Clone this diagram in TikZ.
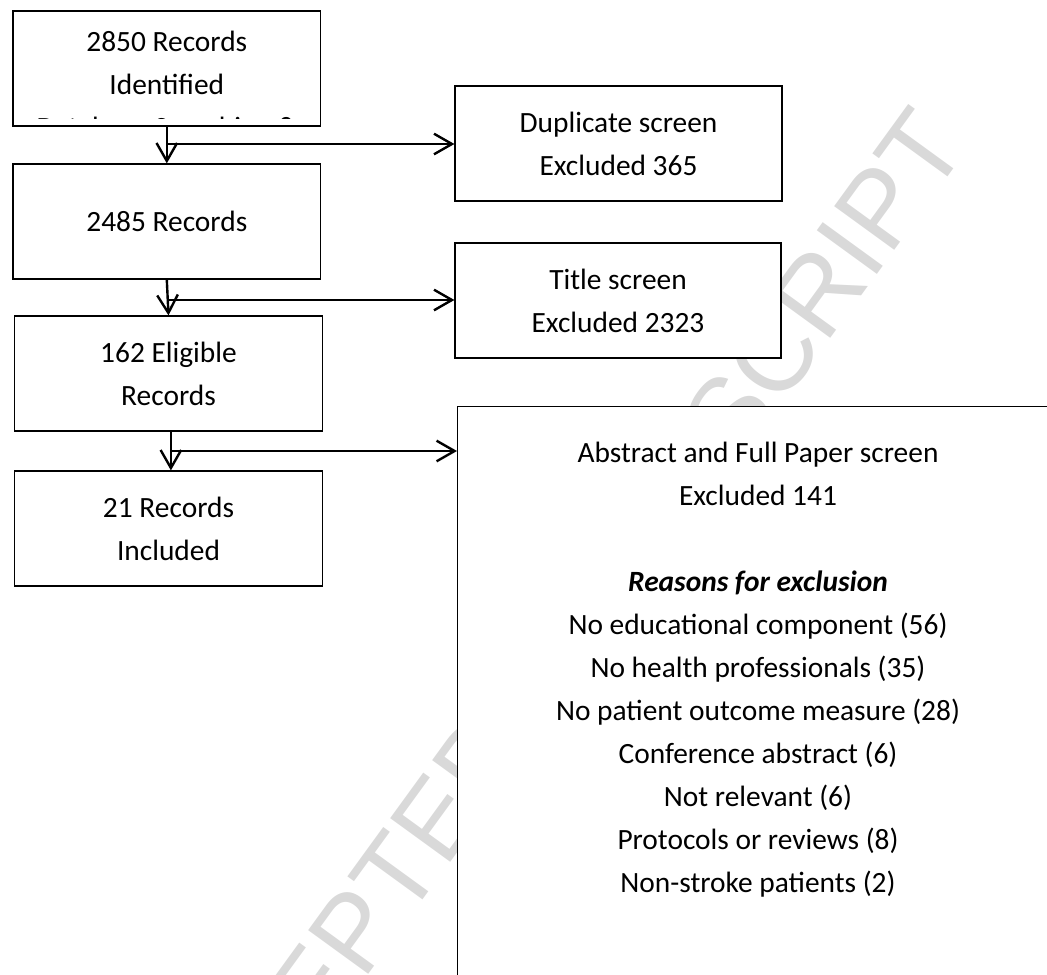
\documentclass[tikz,border=0pt]{standalone}
\usepackage{fontspec}
\setmainfont{Carlito}
\newfontfamily\stampfont{Liberation Sans}
\usetikzlibrary{positioning}
\usetikzlibrary{arrows.meta}
\definecolor{stampgrey}{rgb}{0.85,0.85,0.85}

\begin{document}
\begin{tikzpicture}[%
  x=0.5pt, y=-0.5pt,
  box/.style={draw, line width=0.6pt, fill=white, align=center, inner sep=0pt,
    minimum width=153.8pt, minimum height=57.5pt,
    font=\fontsize{14.7}{21.5}\selectfont},
  flow/.style={line width=1.2pt, -{Straight Barb[length=9pt,width=10.3pt]}},
]

  \useasboundingbox (0,0) rectangle (1047,974);
  \clip (0,0) rectangle (1047,974);

  % watermark
  \node[stampgrey, rotate=54, inner sep=0pt, font=\fontsize{54}{54}\selectfont\stampfont]
    (stamp) at (549,663) {ACCEPTED MANUSCRIPT};

  \node[box] (ident) at (166.8,68.5) {};
  \node[box] (dedup) at (166.8,221.5) {2485 Records};
  \node[box] (elig) at (168.5,373.5) {162 Eligible\\Records};
  \node[box] (incl) at (168.5,528.5) {21 Records\\Included};

  \node[box, minimum width=163.5pt] (dupscr) at (618.5,143.5) {Duplicate screen\\Excluded 365};
  \node[box, minimum width=163pt] (titlescr) at (618,300.5) {Title screen\\Excluded 2323};
  \node[box, anchor=north west, minimum width=320pt, minimum height=300pt] (absscr) at (457,406) {};

  % text of the first box runs past its frame
  \begin{scope}
    \clip (ident.north west) rectangle ([yshift=4pt]ident.south east);
    \node[align=center, font=\fontsize{14.7}{21.5}\selectfont] (identtxt) at (166.8,86.5)
      {2850 Records\\Identified\\Database Searching \&};
  \end{scope}

  \node[align=center, font=\fontsize{14.7}{21.5}\selectfont] (reasons) at (758,669.5)
    {Abstract and Full Paper screen\\Excluded 141\\[21.5pt]
     \textbf{\textit{Reasons for exclusion}}\\
     No educational component (56)\\
     No health professionals (35)\\
     No patient outcome measure (28)\\
     Conference abstract (6)\\
     Not relevant (6)\\
     Protocols or reviews (8)\\
     Non-stroke patients (2)};

  % Flow
  \draw[flow] (ident.south) -- (dedup.north);
  \draw[flow] (dedup.south) -- (elig.north);
  \draw[flow] ([xshift=1.2pt]elig.south) -- ([xshift=1.2pt]incl.north);

  \coordinate (fork1) at (ident.south |- 0,144);
  \coordinate (fork2) at (dedup.south |- 0,300);
  \coordinate (fork3) at ([xshift=1.2pt]elig.south |- 0,451);
  \draw[flow] (fork1) -- (fork1 -| dupscr.west);
  \draw[flow] (fork2) -- (fork2 -| titlescr.west);
  \draw[flow] (fork3) -- (fork3 -| absscr.west);

\end{tikzpicture}
\end{document}
